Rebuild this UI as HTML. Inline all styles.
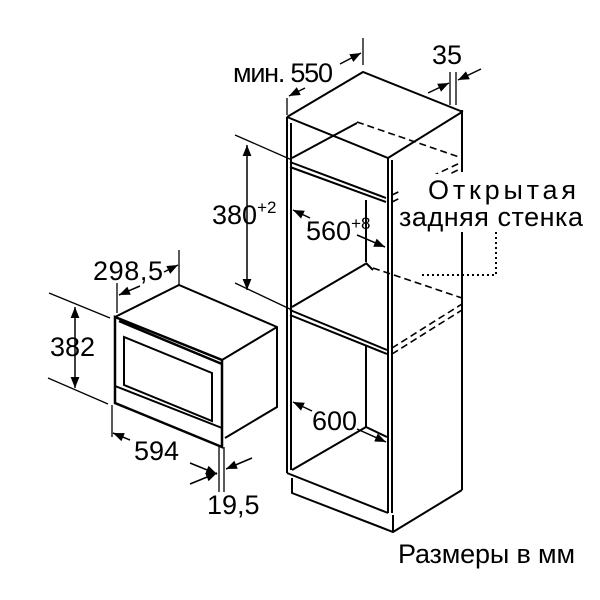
<!DOCTYPE html>
<html><head><style>body{margin:0;background:#fff}svg{display:block}text{font-family:"Liberation Sans",sans-serif;font-size:27px;fill:#000}</style></head><body>
<svg width="600" height="600" viewBox="0 0 600 600" xmlns="http://www.w3.org/2000/svg">
<defs><marker id="a" viewBox="0 0 10 10" refX="10" refY="5" markerWidth="11" markerHeight="11" orient="auto-start-reverse" markerUnits="userSpaceOnUse"><path d="M0,1 L10,5 L0,9z" fill="#000"/></marker></defs>
<g fill="none" stroke="#000" stroke-width="2">
<path d="M287,117 L363,72 L463,112 M287,117 L388,158 L462,112"/>
<path d="M287,117 V473 M291,123 V470 M388,158 V513 M392,160 V513 M287,473 L388,513"/>
<path d="M462,110 V172 M462,232 V490"/>
<path d="M292,478 V493 L393,532 L462,490 M393,515 V532"/>
<path d="M290,162 L386,198 M290,167 L386,202 M292,158 L357,123"/>
<path d="M292,307 L367,263 M290,310 L387,350 M290,315 L387,354"/>
<path d="M292,470 L366,427 L387,437 M366,345 V427 M366,200 V262 M366,263 L373,270"/>
<g stroke-dasharray="7,4" stroke-width="1.6"><path d="M357,122 L462,158 M392,195 L462,162 M392,202 L462,168 M373,268 L462,298 M392,348 L462,304 M392,354 L462,310"/></g>
<path stroke-dasharray="2,3" d="M496,232 V275 H420"/>
<path d="M115,317 L179,285 L277,327 V407 L225,438 M222,360 L277,327"/>
<path d="M115,317 L222,360 V447 L115,403Z M119,321 L222,364" stroke-width="2.5"/>
<path d="M124,337 L212,373 V421 L124,385Z M115,386 L222,428"/>
<path stroke-width="1.3" d="M49,293 L110,318 M48,378 L108,404 M112,405 V437 M219,447 V492 M224,447 V492 M117,283 V313 M179,250 V285 M235,135 L292,160 M235,283 L292,310 M287,98 V115 M363,38 V65 M450,72 V105 M456,72 V105"/>
<g stroke-width="1.5">
<path d="M75,307 V388" marker-start="url(#a)" marker-end="url(#a)"/>
<path d="M247,145 V290" marker-start="url(#a)" marker-end="url(#a)"/>
<path d="M130,440 L113,433" marker-end="url(#a)"/><path d="M190,463 L217,474" marker-end="url(#a)"/>
<path d="M252,458 L226,469" marker-end="url(#a)"/><path d="M190,484 L217,473" marker-end="url(#a)"/>
<path d="M140,286 L119,295" marker-end="url(#a)"/><path d="M164,272 L178,265" marker-end="url(#a)"/>
<path d="M310,218 L293,210" marker-end="url(#a)"/><path d="M357,235 L385,247" marker-end="url(#a)"/>
<path d="M312,411 L293,402" marker-end="url(#a)"/><path d="M357,429 L386,442" marker-end="url(#a)"/>
<path d="M305,88 L289,96" marker-end="url(#a)"/><path d="M340,64 L361,53" marker-end="url(#a)"/>
<path d="M428,93 L449,83" marker-end="url(#a)"/><path d="M481,69 L458,80" marker-end="url(#a)"/>
</g>
</g>
<rect x="400" y="174" width="185" height="58" fill="#fff"/>
<text x="233" y="82" textLength="100">мин. 550</text>
<text x="432" y="64">35</text>
<text x="428" y="199" textLength="148">Открытая</text>
<text x="399" y="226" textLength="184">задняя стенка</text>
<text x="212" y="224">380<tspan font-size="17" dy="-11">+2</tspan></text>
<text x="306" y="240">560<tspan font-size="17" dy="-11">+8</tspan></text>
<text x="312" y="430">600</text>
<text x="93" y="280" textLength="70">298,5</text>
<text x="50" y="356">382</text>
<text x="134" y="460">594</text>
<text x="207" y="514">19,5</text>
<text x="398" y="563" textLength="177">Размеры в мм</text>
</svg>
</body></html>
